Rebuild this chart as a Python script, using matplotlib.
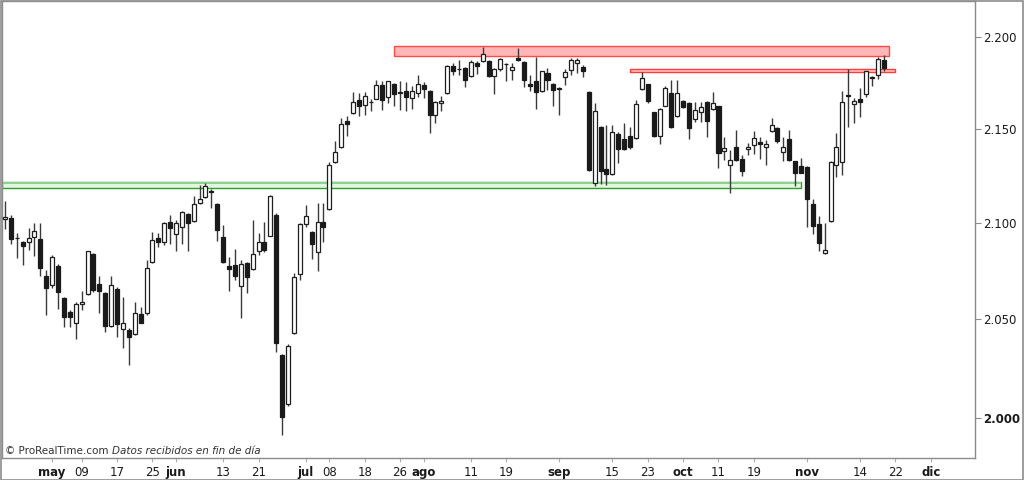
import numpy as np
import pandas as pd
import matplotlib
matplotlib.use("Agg")
import matplotlib.pyplot as plt
from matplotlib.patches import Rectangle

# ---------------- data ----------------
opens = [2102.1, 2102.8, 2092.0, 2090.3, 2090.3, 2092.9, 2091.6, 2072.5, 2067.9, 2077.7,
         2061.0, 2053.7, 2048.4, 2057.9, 2063.2, 2083.9, 2068.2, 2063.6, 2046.9, 2065.8,
         2045.2, 2044.7, 2042.7, 2052.7, 2053.2, 2079.6, 2092.4, 2090.3, 2100.7, 2094.3,
         2098.1, 2104.8, 2101.2, 2110.5, 2113.6, 2116.6, 2110.1, 2092.6, 2077.4, 2078.2,
         2067.0, 2079.1, 2076.0, 2085.6, 2090.3, 2093.4, 2104.2, 2032.0, 2007.1, 2043.0,
         2073.6, 2099.5, 2095.5, 2084.8, 2100.7, 2107.4, 2132.2, 2140.0, 2154.4, 2158.4,
         2165.3, 2162.6, 2164.3, 2166.2, 2173.4, 2167.1, 2174.2, 2169.4, 2170.5, 2166.6,
         2169.3, 2173.8, 2170.5, 2157.5, 2163.8, 2169.3, 2184.1, 2182.5, 2182.8, 2178.7,
         2185.5, 2186.8, 2186.8, 2178.7, 2182.5, 2185.3, 2181.9, 2188.1, 2185.9, 2174.2,
         2175.6, 2170.1, 2180.1, 2174.2, 2172.0, 2178.0, 2181.9, 2185.6, 2183.4, 2169.8,
         2121.1, 2150.8, 2128.5, 2125.8, 2147.1, 2144.6, 2146.3, 2145.0, 2171.4, 2174.2,
         2158.8, 2146.2, 2162.4, 2169.3, 2156.9, 2165.1, 2163.8, 2155.2, 2158.8, 2164.4,
         2160.7, 2162.0, 2138.2, 2130.8, 2140.0, 2133.8, 2139.1, 2141.4, 2143.0, 2140.2,
         2148.8, 2150.3, 2137.5, 2144.6, 2132.5, 2130.3, 2129.4, 2110.1, 2099.5, 2084.3,
         2101.0, 2130.4, 2132.2, 2168.0, 2163.3, 2166.0, 2168.9, 2177.9, 2179.2, 2187.0]
highs = [2111.3, 2104.2, 2095.0, 2090.8, 2097.3, 2100.2, 2099.8, 2075.6, 2083.4, 2078.5,
         2061.5, 2054.9, 2059.2, 2064.4, 2085.6, 2084.5, 2072.2, 2064.3, 2072.5, 2066.5,
         2061.5, 2045.5, 2058.9, 2056.6, 2080.8, 2095.5, 2094.7, 2100.3, 2104.2, 2101.6,
         2106.2, 2105.3, 2114.3, 2120.1, 2121.0, 2117.9, 2110.6, 2099.0, 2082.2, 2086.4,
         2080.8, 2079.6, 2101.6, 2094.7, 2100.7, 2114.8, 2105.0, 2032.5, 2037.5, 2073.9,
         2099.8, 2109.2, 2096.0, 2110.5, 2110.5, 2132.4, 2143.5, 2155.7, 2157.0, 2169.6,
         2169.3, 2169.6, 2166.0, 2176.1, 2175.9, 2176.0, 2174.6, 2175.6, 2175.0, 2172.9,
         2178.8, 2175.0, 2171.0, 2165.0, 2167.8, 2184.6, 2185.6, 2187.4, 2183.5, 2187.5,
         2186.5, 2194.6, 2187.5, 2183.0, 2188.3, 2185.6, 2185.6, 2194.0, 2186.5, 2179.2,
         2188.8, 2181.4, 2182.8, 2174.7, 2172.6, 2182.5, 2188.3, 2188.3, 2184.6, 2170.5,
         2163.8, 2151.5, 2152.1, 2152.1, 2148.0, 2153.3, 2151.1, 2165.6, 2180.5, 2174.3,
         2159.0, 2161.0, 2173.2, 2176.1, 2176.1, 2165.5, 2164.5, 2164.2, 2164.2, 2165.0,
         2169.8, 2162.5, 2145.8, 2138.7, 2149.4, 2136.1, 2142.3, 2148.8, 2145.8, 2144.1,
         2155.7, 2150.8, 2145.8, 2149.4, 2133.0, 2134.3, 2130.0, 2112.6, 2103.8, 2099.8,
         2132.5, 2147.6, 2170.5, 2182.3, 2166.6, 2172.0, 2181.5, 2178.3, 2188.8, 2190.1]
lows = [2096.7, 2089.0, 2081.7, 2077.9, 2086.0, 2082.5, 2072.2, 2052.3, 2066.3, 2055.4,
        2046.1, 2046.1, 2040.0, 2054.9, 2062.5, 2064.0, 2053.5, 2043.8, 2046.0, 2041.3,
        2035.4, 2026.6, 2042.0, 2048.0, 2052.5, 2079.0, 2087.7, 2088.6, 2089.0, 2085.6,
        2089.0, 2085.6, 2100.7, 2110.0, 2113.0, 2107.8, 2090.7, 2079.0, 2064.4, 2070.5,
        2050.6, 2063.6, 2075.5, 2083.4, 2084.6, 2093.0, 2033.2, 1991.9, 2006.0, 2042.5,
        2070.5, 2098.1, 2081.2, 2074.8, 2089.8, 2107.0, 2131.8, 2139.5, 2146.3, 2158.0,
        2156.6, 2157.5, 2159.3, 2165.8, 2160.2, 2163.8, 2162.0, 2160.2, 2159.3, 2160.6,
        2166.9, 2166.6, 2147.9, 2153.0, 2159.3, 2169.0, 2179.2, 2179.2, 2172.5, 2178.0,
        2179.5, 2186.0, 2177.8, 2168.9, 2181.0, 2175.6, 2176.5, 2186.5, 2172.3, 2170.1,
        2160.6, 2169.7, 2171.1, 2162.0, 2157.5, 2173.8, 2179.2, 2180.1, 2178.0, 2127.7,
        2119.3, 2120.7, 2120.2, 2125.3, 2131.7, 2138.7, 2139.1, 2144.5, 2171.0, 2164.0,
        2145.5, 2141.9, 2162.0, 2150.5, 2156.5, 2161.0, 2144.4, 2153.7, 2153.7, 2145.5,
        2160.0, 2129.0, 2133.4, 2115.8, 2133.0, 2124.6, 2136.1, 2136.6, 2134.0, 2130.4,
        2148.5, 2142.3, 2132.5, 2133.0, 2119.6, 2126.3, 2098.1, 2094.3, 2085.6, 2084.0,
        2100.5, 2124.3, 2125.5, 2151.1, 2153.0, 2156.2, 2167.1, 2172.9, 2176.9, 2181.0]
closes = [2103.1, 2091.7, 2092.2, 2088.1, 2092.1, 2095.9, 2076.5, 2066.2, 2082.0, 2064.1,
          2051.5, 2051.1, 2058.0, 2059.2, 2085.1, 2064.9, 2064.8, 2046.9, 2067.5, 2047.7,
          2048.4, 2040.8, 2053.2, 2048.4, 2076.5, 2091.2, 2090.3, 2099.8, 2097.3, 2099.8,
          2105.7, 2099.8, 2110.1, 2112.6, 2119.7, 2116.2, 2096.4, 2079.4, 2076.0, 2072.2,
          2078.6, 2071.9, 2083.8, 2089.8, 2086.0, 2114.3, 2038.0, 2000.8, 2036.7, 2071.7,
          2099.3, 2103.7, 2089.1, 2100.4, 2098.1, 2130.6, 2137.5, 2152.4, 2152.6, 2164.4,
          2162.4, 2167.4, 2164.5, 2173.4, 2165.3, 2175.6, 2168.9, 2169.8, 2167.1, 2170.5,
          2174.2, 2171.4, 2157.5, 2164.4, 2164.9, 2183.7, 2181.5, 2182.3, 2176.1, 2185.9,
          2184.2, 2190.6, 2178.3, 2182.5, 2187.9, 2185.1, 2183.4, 2187.0, 2176.5, 2173.2,
          2169.6, 2181.0, 2176.5, 2171.1, 2171.4, 2180.7, 2187.0, 2187.0, 2181.5, 2128.1,
          2159.3, 2127.6, 2126.0, 2148.1, 2139.3, 2139.4, 2140.0, 2163.3, 2177.4, 2164.7,
          2146.2, 2160.6, 2172.0, 2151.1, 2169.3, 2161.5, 2150.6, 2160.2, 2161.5, 2154.4,
          2163.8, 2137.0, 2139.6, 2133.1, 2133.4, 2127.2, 2140.2, 2145.0, 2141.9, 2141.8,
          2152.1, 2143.2, 2140.0, 2133.4, 2126.4, 2126.6, 2112.6, 2098.4, 2089.5, 2086.0,
          2132.2, 2140.2, 2164.2, 2167.8, 2165.1, 2164.2, 2181.0, 2177.6, 2187.9, 2182.8]

first_day = "2016-04-20"
holidays = ["2016-05-30", "2016-07-04", "2016-09-05", "2016-11-24"]

tick_dates = ["2016-05-02", "2016-05-09", "2016-05-17", "2016-05-25", "2016-06-01",
              "2016-06-13", "2016-06-21", "2016-07-01", "2016-07-08", "2016-07-18",
              "2016-07-26", "2016-08-01", "2016-08-11", "2016-08-19", "2016-09-01",
              "2016-09-15", "2016-09-23", "2016-10-03", "2016-10-11", "2016-10-19",
              "2016-11-01", "2016-11-14", "2016-11-22", "2016-12-01"]
tick_labels = ["may", "09", "17", "25", "jun", "13", "21", "jul", "08", "18", "26",
               "ago", "11", "19", "sep", "15", "23", "oct", "11", "19", "nov", "14",
               "22", "dic"]
month_labels = {"may", "jun", "jul", "ago", "sep", "oct", "nov", "dic"}

price_ticks = [2000, 2050, 2100, 2150, 2200]
price_labels = ["2.000", "2.050", "2.100", "2.150", "2.200"]

# zones: (start date or None for chart edge, end date, low, high)
green_zone = (None, "2016-10-31", 2118.6, 2121.5)
red_zone_1 = ("2016-07-25", "2016-11-21", 2189.5, 2195.0)
red_zone_2 = ("2016-09-20", "2016-11-22", 2180.5, 2182.5)

# ---------------- trading-day axis ----------------
days = pd.bdate_range(first_day, "2016-12-30")
days = days[~days.isin(pd.to_datetime(holidays))]
pos = {d.strftime("%Y-%m-%d"): i for i, d in enumerate(days)}
n = len(opens)
x = np.arange(n)

fig = plt.figure(figsize=(10.24, 4.8), dpi=100)
fig.patch.set_facecolor("white")
ax = fig.add_axes([2 / 1024, 22 / 480, 973 / 1024, 457 / 480])
ax.set_yscale("log")
XMIN, XMAX = -0.51, 164.5
ax.set_xlim(XMIN, XMAX)
ax.set_ylim(1980.3, 2219.7)


def zone(z, face, edge, top_band=None):
    s, e, lo, hi = z
    xs = XMIN if s is None else pos[s]
    xe = pos[e]
    ax.add_patch(Rectangle((xs, lo), xe - xs, hi - lo, facecolor=face,
                           edgecolor=edge, lw=1.0, zorder=1))
    if top_band is not None:
        ax.add_patch(Rectangle((xs, hi - (hi - lo) * 0.38), xe - xs, (hi - lo) * 0.38,
                               facecolor=top_band, edgecolor="none", zorder=1.1))


zone(green_zone, "#e2f7df", "#2f9e2f", top_band="#8fd28f")
zone(red_zone_1, "#ffb6b6", "#ff4a4a")
zone(red_zone_2, "#ffc4c4", "#ff3a3a")

# ---------------- candles ----------------
w = 0.68
for i in range(n):
    o, h, l, c = opens[i], highs[i], lows[i], closes[i]
    ax.vlines(x[i], l, h, color="#3a3a3a", lw=1.0, zorder=2)
    lo_b, hi_b = min(o, c), max(o, c)
    hgt = max(hi_b - lo_b, 0.15)
    if c >= o:
        ax.add_patch(Rectangle((x[i] - w / 2, lo_b), w, hgt, facecolor="white",
                               edgecolor="#1e1e1e", lw=0.9, zorder=3))
    else:
        ax.add_patch(Rectangle((x[i] - w / 2, lo_b), w, hgt, facecolor="#1a1a1a",
                               edgecolor="#1a1a1a", lw=0.9, zorder=3))

# ---------------- axes styling ----------------
for sp in ax.spines.values():
    sp.set_color("#8c8c8c")
    sp.set_linewidth(1.0)

ax.yaxis.tick_right()
ax.yaxis.set_minor_locator(matplotlib.ticker.NullLocator())
ax.set_yticks(price_ticks)
ax.set_yticklabels(price_labels)
ax.tick_params(axis="y", which="major", length=4, width=0.8, color="#8c8c8c",
               labelsize=8.5, labelcolor="#1a1a1a", pad=2)
for t, lab in zip(ax.get_yticklabels(), price_labels):
    if lab == "2.000":
        t.set_fontweight("bold")

ax.set_xticks([pos[d] for d in tick_dates])
ax.set_xticklabels(tick_labels)
ax.xaxis.set_minor_locator(matplotlib.ticker.NullLocator())
ax.tick_params(axis="x", length=3, width=0.8, color="#b0b0b0", labelsize=8.5,
               labelcolor="#1a1a1a", pad=3)
for t in ax.get_xticklabels():
    if t.get_text() in month_labels:
        t.set_fontweight("bold")

# figure border
fig.patches.append(Rectangle((0.5 / 1024, 0.5 / 480), 1022.5 / 1024, 478.5 / 480,
                             transform=fig.transFigure, fill=False,
                             edgecolor="#8c8c8c", lw=1.2))

# copyright note
t1 = fig.text(5 / 1024, 1 - 451 / 480, "© ProRealTime.com ", fontsize=7.5,
              color="#333333", va="center", ha="left")
fig.canvas.draw()
bb = t1.get_window_extent()
fig.text(bb.x1 / 1024, 1 - 451 / 480, "Datos recibidos en fin de día", fontsize=7.5,
         color="#333333", va="center", ha="left", style="italic")

fig.savefig("out.png", dpi=100)
